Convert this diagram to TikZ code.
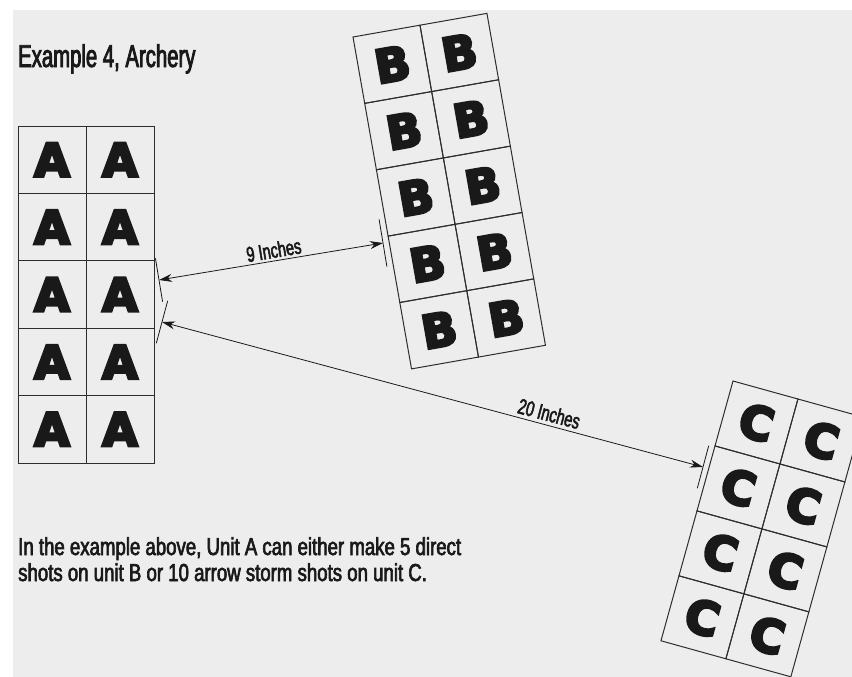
\documentclass[tikz,border=0pt]{standalone}
\usepackage{fontspec}
\usetikzlibrary{arrows.meta,calc}
\setmainfont{Liberation Sans}
\newfontfamily\titlefont[FakeStretch=0.645,FakeBold=2.6]{Liberation Sans}
\newfontfamily\capfont[FakeStretch=0.76,FakeBold=2.6]{Liberation Sans}
\newfontfamily\lblfont[FakeStretch=0.68,FakeBold=2.4]{Liberation Sans}
\newfontfamily\bigletter[FakeBold=6]{DejaVu Sans Bold}
\definecolor{paper}{RGB}{237,237,237}
\definecolor{ink}{RGB}{25,25,25}
\definecolor{gridline}{RGB}{45,45,45}
\begin{document}
\begin{tikzpicture}[x=1pt,y=-1pt,
  cell/.style={draw=gridline, line width=1pt, minimum width=68pt, minimum height=67.4pt,
    inner sep=0pt, font=\bigletter\fontsize{46}{46}\selectfont, text=ink},
  ccell/.style={cell, minimum width=67.4pt, minimum height=67.4pt},
  dim/.style={draw=ink, line width=0.8pt},
  dimarrow/.style={dim, {Stealth[length=13pt,width=8pt]}-{Stealth[length=13pt,width=8pt]}},
  lbl/.style={font=\lblfont\fontsize{21.5}{21.5}\selectfont, text=ink, inner sep=2.5pt},
  captext/.style={anchor=base west, inner sep=0pt, font=\capfont\fontsize{24.5}{24.5}\selectfont, text=ink}
]
\clip (0,0) rectangle (852,677);
\fill[white] (0,0) rectangle (852,677);
\fill[paper] (13,10) rectangle (852,677);

% title
\node[anchor=base west, inner sep=0pt, font=\titlefont\fontsize{31.5}{31.5}\selectfont, text=ink] (title) at (18,67) {Example 4, Archery};

% unit A
\foreach \r in {0,...,4}
  \foreach \c in {0,1}
    \node[cell] (a\r\c) at ({18+34+68*\c},{126+33.7+67.4*\r}) {A};

% unit B
\begin{scope}[shift={(353,37)}, rotate=10, transform shape]
\foreach \r in {0,...,4}
  \foreach \c in {0,1}
    \node[cell] (b\r\c) at ({34+68*\c},{33.7+67.4*\r}) {B};
\end{scope}

% unit C
\begin{scope}[shift={(733,381)}, rotate=-15.5, transform shape]
\foreach \r in {0,...,3}
  \foreach \c in {0,1}
    \node[ccell] (c\r\c) at ({33.7+67.4*\c},{33.7+67.4*\r}) {C};
\end{scope}

% dimension lines
\coordinate (p9a) at (159,280);
\coordinate (p9b) at (383,243);
\coordinate (p20a) at (162,322);
\coordinate (p20b) at (703,467);

\draw[dim] ($(p9a)!22pt!90:(p9b)$) -- ($(p9a)!22pt!-90:(p9b)$);
\draw[dim] ($(p9b)!24pt!90:(p9a)$) -- ($(p9b)!24pt!-90:(p9a)$);
\draw[dim] ($(p20a)!22pt!90:(p20b)$) -- ($(p20a)!22pt!-90:(p20b)$);
\draw[dim] ($(p20b)!22pt!90:(p20a)$) -- ($(p20b)!22pt!-90:(p20a)$);

\draw[dimarrow] (p9a) -- node[lbl, sloped, above, pos=0.52] {9 Inches} (p9b);
\draw[dimarrow] (p20a) -- node[lbl, sloped, above=1pt, pos=0.71] {20 Inches} (p20b);

% caption
\node[captext] (cap1) at (18,555) {In the example above, Unit A can either make 5 direct};
\node[captext] (cap2) at (18,581) {shots on unit B or 10 arrow storm shots on unit C.};
\end{tikzpicture}
\end{document}
